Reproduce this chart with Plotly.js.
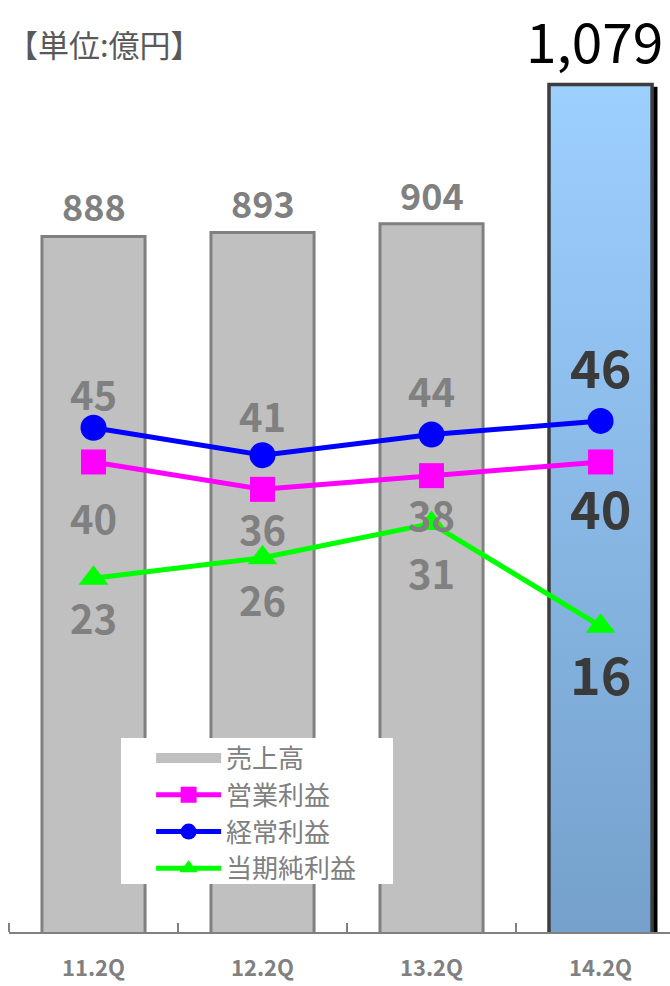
<!DOCTYPE html>
<html><head><meta charset="utf-8">
<script src="https://cdn.plot.ly/plotly-3.0.1.min.js"></script>
<style>html,body{margin:0;padding:0;background:#fff}</style>
</head><body><div id="chart" style="width:670px;height:986px"></div>
<script>
// ---- data ----
const categories = ['11.2Q', '12.2Q', '13.2Q', '14.2Q'];
const sales = [888, 893, 904, 1079];            // 売上高
const operatingProfit = [40, 36, 38, 40];       // 営業利益
const ordinaryProfit = [45, 41, 44, 46];        // 経常利益
const netProfit = [23, 26, 31, 16];             // 当期純利益
const seriesNames = ['売上高', '営業利益', '経常利益', '当期純利益'];
const unitLabel = '【単位:億円】';

// ---- styles ----
const FONT = '"Noto Sans CJK JP", "Noto Sans", sans-serif';
const highlightIndex = 3;
const barWidth = 0.61;
const GRAY_TXT = '#808080';
const DARK_TXT = '#3a3a3a';
const blueShift = [35, 40, 45, 55];
const pinkShift = [-55, -39, -38, -45];
const greenShift = [-39, -41, -48, -46];
const barShift = [31.5, 30.5, 30, 45.5];

const xs = categories.map((c, i) => i);
const boundaries = xs.map(i => i - 0.5);

const hx = highlightIndex, hv = sales[hx];
const half = barWidth / 2;

const traces = [];
// gray bars
traces.push({
  type: 'bar', x: xs, y: sales, width: barWidth, showlegend: false, hoverinfo: 'skip',
  marker: {
    color: xs.map(i => i === hx ? 'rgba(0,0,0,0)' : '#c0c0c0'),
    line: { color: xs.map(i => i === hx ? 'rgba(0,0,0,0)' : '#808080'), width: 3 }
  }
});
// shadow of highlighted bar
traces.push({
  type: 'scatter', mode: 'lines', showlegend: false, hoverinfo: 'skip',
  x: [hx + half, hx + half + 0.032, hx + half + 0.032, hx + half, hx + half],
  y: [0, 0, hv - 3, hv - 3, 0],
  fill: 'toself', fillcolor: '#000', line: { width: 0, color: '#000' }
});
// gradient highlighted bar
traces.push({
  type: 'scatter', mode: 'lines', showlegend: false, hoverinfo: 'skip',
  x: [hx - half, hx + half, hx + half, hx - half, hx - half],
  y: [0, 0, hv, hv, 0],
  fill: 'toself',
  fillgradient: { type: 'vertical', colorscale: [[0, '#74a0cb'], [1, '#9dcfff']] },
  line: { width: 3.5, color: '#3d3d3d' }
});
// legend proxy for bars
traces.push({
  type: 'scatter', mode: 'lines', name: seriesNames[0], x: [null], y: [null],
  line: { color: '#c0c0c0', width: 18 }
});
const lineSeries = [
  { name: seriesNames[1], y: operatingProfit, color: '#ff00ff', symbol: 'square', size: 25 },
  { name: seriesNames[2], y: ordinaryProfit, color: '#0000ff', symbol: 'circle', size: 26 },
  { name: seriesNames[3], y: netProfit, color: '#00ff00', symbol: 'triangle-up', size: 26 }
];
lineSeries.forEach(s => {
  traces.push({
    type: 'scatter', mode: 'lines+markers', name: s.name, x: xs, y: s.y, yaxis: 'y2',
    line: { color: s.color, width: 5 },
    marker: { color: s.color, symbol: s.symbol, size: s.size },
    cliponaxis: false, hoverinfo: 'skip'
  });
});

const annotations = [];
function addLabels(vals, shifts, yref, sizes, weights, colors, fmt, xshifts) {
  vals.forEach((v, i) => {
    annotations.push({
      x: i, y: v, xref: 'x', yref: yref, text: fmt ? fmt(v) : String(v),
      showarrow: false, xanchor: 'center', yanchor: 'middle', yshift: shifts[i],
      xshift: xshifts ? xshifts[i] : 0,
      font: { family: FONT, size: sizes[i], color: colors[i], weight: weights[i] }
    });
  });
}
const lineSizes = xs.map(i => i === hx ? 52 : 40);
const lineColors = xs.map(i => i === hx ? DARK_TXT : GRAY_TXT);
const bolds = xs.map(() => 'bold');
addLabels(ordinaryProfit, blueShift, 'y2', lineSizes, bolds, lineColors);
addLabels(operatingProfit, pinkShift, 'y2', lineSizes, bolds, lineColors);
addLabels(netProfit, greenShift, 'y2', lineSizes, bolds, lineColors);
addLabels(sales, barShift, 'y',
  xs.map(i => i === hx ? 55 : 36),
  xs.map(i => i === hx ? 'normal' : 'bold'),
  xs.map(i => i === hx ? '#000' : GRAY_TXT),
  v => v.toLocaleString('en-US'),
  xs.map(i => i === hx ? -6 : 0));

const layout = {
  width: 670, height: 986,
  margin: { l: 9, r: 0, t: 20, b: 54, pad: 0 },
  paper_bgcolor: '#fff', plot_bgcolor: 'rgba(0,0,0,0)',
  showlegend: true,
  title: {
    text: unitLabel, x: 0.0104, xanchor: 'left', y: 1 - 46 / 986, yanchor: 'middle',
    font: { family: FONT, size: 31, color: '#595959' }
  },
  xaxis: {
    range: [-0.5, 3.411], tickmode: 'array', tickvals: xs, ticktext: categories,
    ticks: '', showline: true, linecolor: '#808080', linewidth: 2,
    showgrid: false, zeroline: false, fixedrange: true,
    tickfont: { family: FONT, size: 22, color: GRAY_TXT, weight: 'bold' },
    ticklabelstandoff: 16,
    minor: { tickmode: 'array', tickvals: boundaries, ticks: 'inside', ticklen: 9, tickwidth: 2, tickcolor: '#808080', showgrid: false }
  },
  yaxis: { range: [14, 1160], visible: false, fixedrange: true },
  yaxis2: { range: [-28.7, 104.6], overlaying: 'y', visible: false, fixedrange: true },
  legend: {
    x: 0.215, xanchor: 'left', y: 0.2165, yanchor: 'top',
    bgcolor: 'rgba(0,0,0,0)', borderwidth: 0, itemwidth: 65, traceorder: 'normal',
    font: { family: FONT, size: 26, color: GRAY_TXT }
  },
  shapes: [{
    type: 'rect', xref: 'paper', yref: 'paper', layer: 'above',
    x0: (121 - 9) / 661, x1: (393 - 9) / 661, y0: (932 - 884) / 912, y1: (932 - 738) / 912,
    fillcolor: '#fff', line: { width: 0 }
  }],
  annotations: annotations
};

Plotly.newPlot('chart', traces, layout, { displayModeBar: false, staticPlot: true });
</script>
</body></html>
